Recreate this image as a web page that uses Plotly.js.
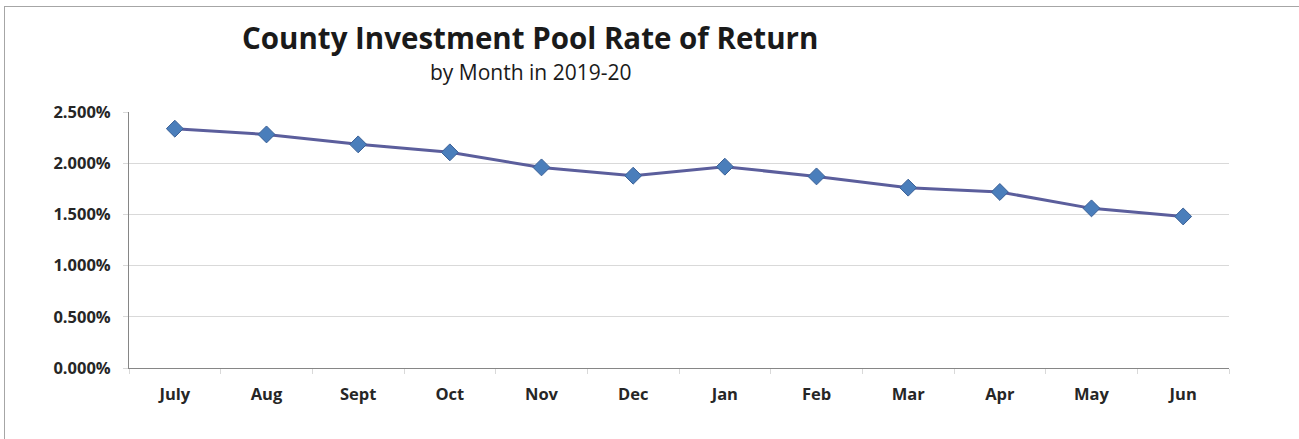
<!DOCTYPE html>
<html><head><meta charset="utf-8">
<script src="https://cdn.plot.ly/plotly-3.0.1.min.js"></script>
<style>
html,body{margin:0;padding:0;background:#fff;}
#chart{width:1299px;height:439px;position:absolute;left:0;top:0;}
#frame{position:absolute;left:4px;top:6px;width:1400px;height:500px;border:1px solid #a6a6a6;pointer-events:none;}
</style></head>
<body>
<div id="chart"></div>
<div id="frame"></div>
<script>
const months = ["July","Aug","Sept","Oct","Nov","Dec","Jan","Feb","Mar","Apr","May","Jun"];
const rateOfReturn = [0.02337,0.02281,0.02184,0.02106,0.01959,0.01878,0.01966,0.01871,0.01761,0.01719,0.01559,0.01480];
const yTicks = [0,0.005,0.01,0.015,0.02,0.025];
const titleText = "County Investment Pool Rate of Return";
const subtitleText = "by Month in 2019-20";

const FONT = "'Open Sans', Lato, sans-serif";
const trace = {
  x: months, y: rateOfReturn, type: "scatter", mode: "lines+markers",
  line: {color: "#5b5e9c", width: 3},
  marker: {symbol: "diamond", size: 13, color: "#4a7ebb", line: {color: "#3a5f96", width: 1}},
  hoverinfo: "x+y"
};
const layout = {
  width: 1299, height: 439,
  margin: {l: 129, r: 70, t: 112, b: 71},
  paper_bgcolor: "#fff", plot_bgcolor: "#fff",
  showlegend: false,
  font: {family: FONT, color: "#262626"},
  xaxis: {
    type: "category", tickson: "boundaries", ticks: "outside", ticklen: 5, tickcolor: "#d9d9d9",
    showline: true, linecolor: "#868686", linewidth: 1, showgrid: false,
    ticklabelstandoff: 11,
    tickfont: {size: 16.5, family: FONT, weight: "bold", color: "#262626"},
    range: [-0.5, 11.5]
  },
  yaxis: {
    range: [0, 0.025], tickvals: yTicks, tickformat: ".3%",
    showline: true, linecolor: "#868686", linewidth: 1,
    showgrid: true, gridcolor: "#d9d9d9", gridwidth: 1, zeroline: false,
    ticks: "outside", ticklen: 5, tickcolor: "#d9d9d9",
    ticklabelstandoff: 9,
    tickfont: {size: 16.5, family: FONT, weight: "bold", color: "#262626"}
  },
  annotations: [
    {text: "<b>" + titleText + "</b>", xref: "paper", yref: "paper", x: (530-129)/1100, y: 1 + (112-37)/257,
     xanchor: "center", yanchor: "middle", showarrow: false, font: {size: 29.5, family: FONT, color: "#1a1a1a"}},
    {text: subtitleText, xref: "paper", yref: "paper", x: (530-129)/1100, y: 1 + (112-72)/257,
     xanchor: "center", yanchor: "middle", showarrow: false, font: {size: 21, family: FONT, color: "#1a1a1a"}}
  ]
};
Plotly.newPlot("chart", [trace], layout, {displayModeBar: false, staticPlot: true});
</script>
</body></html>
